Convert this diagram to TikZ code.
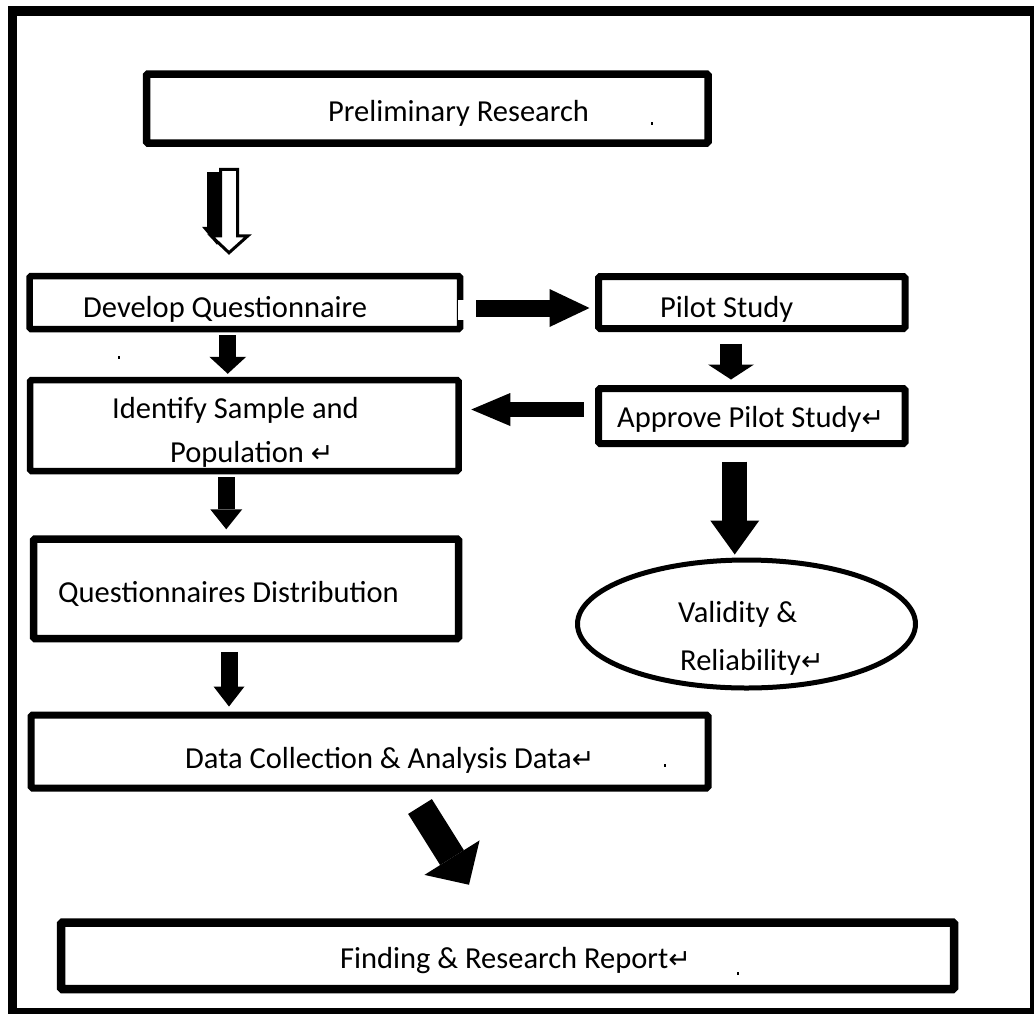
\documentclass[tikz,border=0pt]{standalone}
\usepackage{fontspec}
\setmainfont{Carlito}
\newfontfamily\dejavu{DejaVu Sans}
\usetikzlibrary{arrows.meta,shapes.geometric,calc}
\newcommand\pmk{{\dejavu\fontsize{27}{27}\selectfont ↵}}
\begin{document}
\begin{tikzpicture}[x=1pt,y=-1pt,
  box/.style={draw, rectangle, inner sep=0pt, rounded corners=1.5pt},
  txt/.style={inner sep=0pt, anchor=base west, font=\fontsize{30.5}{36}\selectfont},
  barrow/.style args={#1/#2/#3}{line width=#1, -{Triangle[length=#3, width=#2, line width=0pt]}},
  dotmark/.style={fill=black}]
\useasboundingbox (0,0) rectangle (1034,1013);
\clip (0,0) rectangle (1034,1013);
\fill[white] (0,0) rectangle (1034,1013);
\draw[line width=9.5] (12.5,11) rectangle (1035.2,1012.5);

% boxes
\node[box, line width=7.5, minimum width=561.5, minimum height=69] (prelim) at (427.25,108.5) {};
\node[box, line width=6.5, minimum width=430.5, minimum height=53] (devq) at (244.75,302.5) {};
\node[box, line width=6.5, minimum width=428.5, minimum height=91] (ident) at (244.25,425.5) {};
\node[box, line width=7.5, minimum width=425, minimum height=99.5] (qdist) at (246,588.75) {};
\node[box, line width=7, minimum width=677, minimum height=73] (data) at (369.5,751.5) {};
\node[box, line width=8.5, minimum width=893, minimum height=66.5] (finding) at (507.5,955.75) {};
\node[box, line width=7, minimum width=306.5, minimum height=52] (pilot) at (751.75,302.5) {};
\node[box, line width=7, minimum width=306.5, minimum height=55] (approve) at (751.75,416) {};
\node[draw, ellipse, line width=5, inner sep=0pt, minimum width=338, minimum height=128] (valid) at (746.5,624) {};

% gap in the right side of the Develop Questionnaire box
\fill[white] ($(devq.east)+(-5,-2.5)$) rectangle ($(devq.east)+(5,17.5)$);

% texts
\node[txt] (tprelim) at (328,121) {Preliminary Research};
\node[txt] (tdevq) at (83,317) {Develop Questionnaire};
\node[txt] (tident1) at (112,418) {Identify Sample and};
\node[txt] (tident2) at (170,462) {Population \pmk};
\node[txt] (tqdist) at (58,602) {Questionnaires Distribution};
\node[txt] (tdata) at (185,768) {Data Collection \& Analysis Data\pmk};
\node[txt] (tfinding) at (340,968) {Finding \& Research Report\pmk};
\node[txt] (tpilot) at (660,317) {Pilot Study};
\node[txt] (tapprove) at (617,427) {Approve Pilot Study\pmk};
\node[txt] (tvalid1) at (678,622) {Validity \&};
\node[txt] (tvalid2) at (680,670) {Reliability\pmk};

% stray marks
\fill[dotmark] (650.5,121.5) rectangle (652.5,125);
\fill[dotmark] (117.5,355.5) rectangle (119.5,359);
\fill[dotmark] (663.5,763.5) rectangle (665.5,767);
\fill[dotmark] (736.5,971.5) rectangle (738.5,975);

% connectors
% Preliminary -> Develop (shadowed outline arrow)
\draw[barrow=20/30/18] ($(prelim.south)+(-210.25,25)$) -- ($(devq.north)+(-27.75,-28)$);
\coordinate (oa) at ($(prelim.south)+(-198.25,22.5)$);
\filldraw[fill=white, line width=3, line join=miter]
  (oa) ++(-8.5,0) -- ++(17,0) -- ++(0,66.5) -- ++(10.5,0) -- ++(-19,17)
  -- ++(-18,-17) -- ++(9.5,0) -- cycle;

\draw[barrow=17/38/40] ($(devq.east)+(13,5.5)$) -- ($(pilot.west)+(-5.5,5.5)$);
\draw[barrow=17/37/17] ($(devq.south)+(-17,3)$) -- ($(devq.south |- ident.north)+(-17,-3)$);
\draw[barrow=17/32/20] ($(ident.south)+(-18,3)$) -- ($(ident.south |- qdist.north)+(-18,-6)$);
\draw[barrow=17/31/20] ($(qdist.south)+(-17,9.5)$) -- ($(qdist.south |- data.north)+(-17,-5)$);
\draw[barrow=22/46/15] ($(pilot.south)+(-20.75,11.5)$) -- ($(pilot.south |- approve.north)+(-20.75,-5.5)$);
\draw[barrow=15/33/39] ($(approve.west)+(-11.5,-6.5)$) -- ($(ident.east |- approve.west)+(9.5,-6.5)$);
\draw[barrow=25/49/34] ($(approve.south)+(-17,14.5)$) -- ($(approve.south |- valid.north)+(-17,-3)$);
\draw[barrow=28/65/32] ($(data.south)+(50.5,15)$) -- ($(finding.north)+(-38.5,-33.5)$);
\end{tikzpicture}
\end{document}
